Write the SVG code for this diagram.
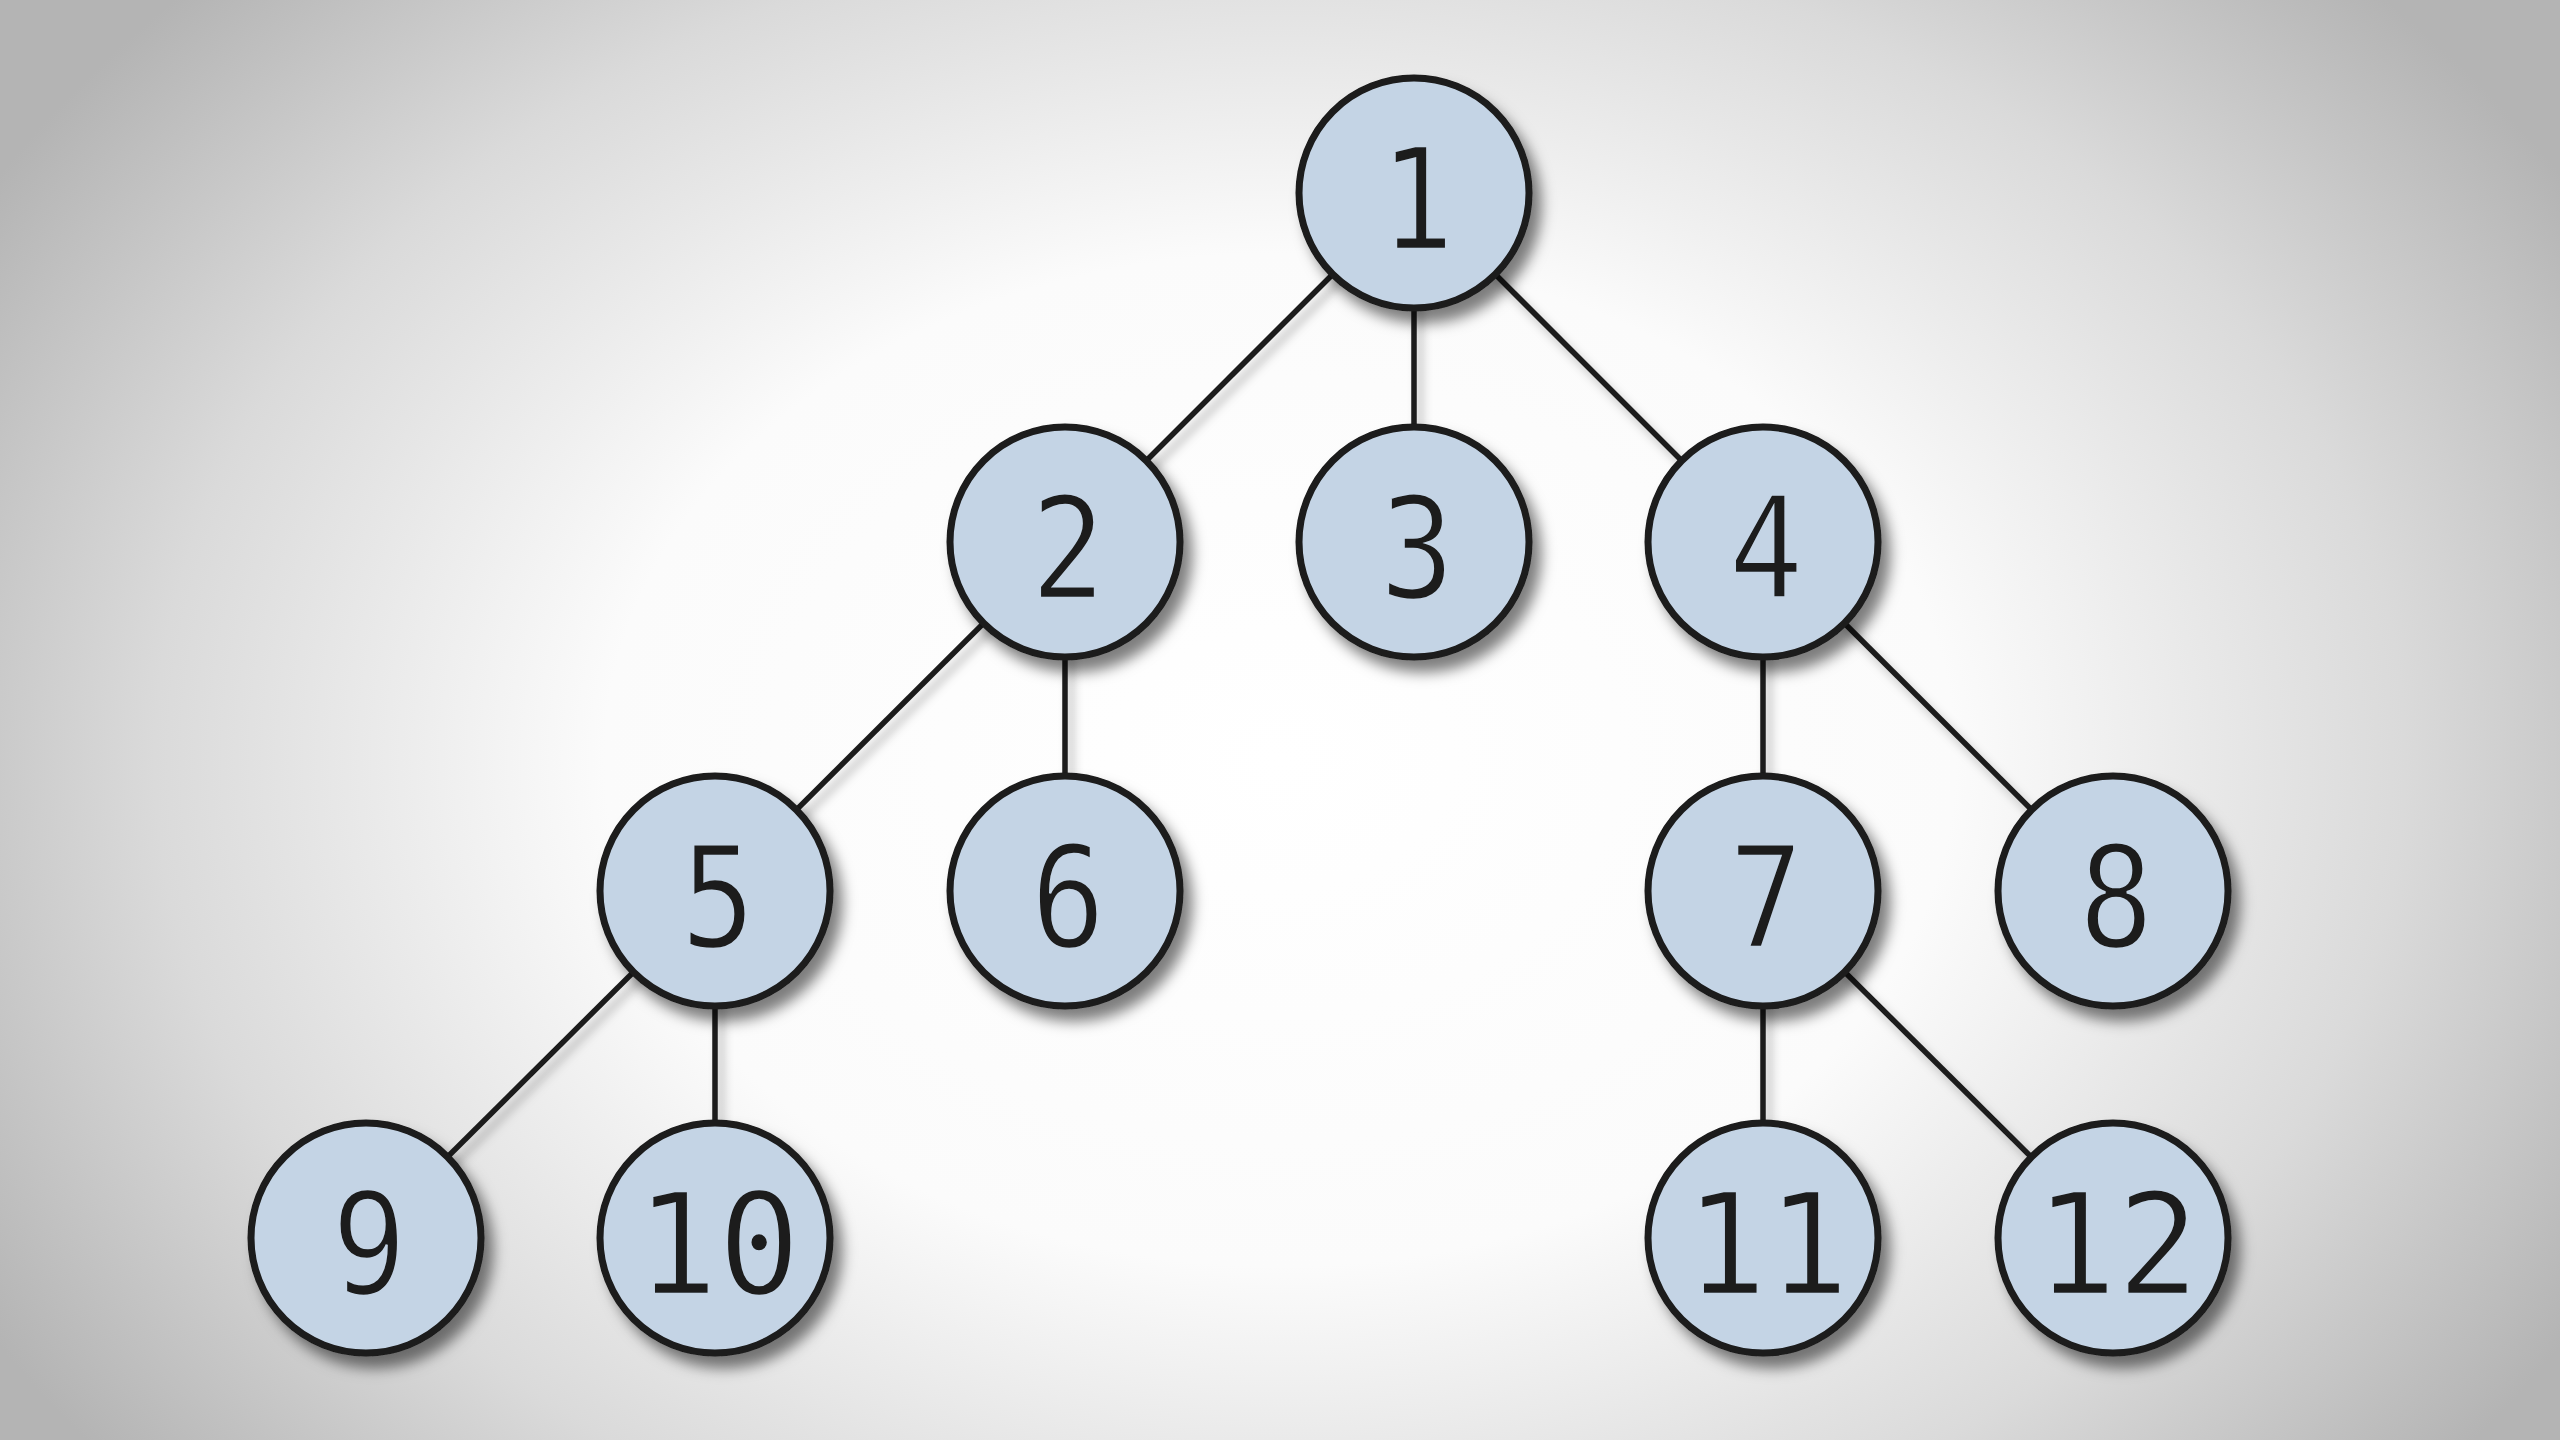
<svg xmlns="http://www.w3.org/2000/svg" width="2560" height="1440" viewBox="0 0 2560 1440">
<defs>
<radialGradient id="bg" cx="1280" cy="760" r="1500" gradientUnits="userSpaceOnUse" gradientTransform="translate(1280 760) scale(1 0.75) translate(-1280 -760)">
<stop offset="0" stop-color="#ffffff"/>
<stop offset="0.45" stop-color="#fbfbfb"/>
<stop offset="0.75" stop-color="#dadada"/>
<stop offset="1" stop-color="#b4b4b4"/>
</radialGradient>
<filter id="sh" x="-30%" y="-30%" width="160%" height="160%">
<feDropShadow dx="9" dy="12" stdDeviation="7" flood-color="#000" flood-opacity="0.5"/>
</filter>
<filter id="lsh" x="-30%" y="-30%" width="160%" height="160%">
<feDropShadow dx="6" dy="8" stdDeviation="5" flood-color="#000" flood-opacity="0.25"/>
</filter>
</defs>
<style>
.n circle{fill:#c4d4e5;stroke:#1a1a1a;stroke-width:7}
.n text{font-family:"DejaVu Sans Mono",monospace;font-size:141px;fill:#1a1a1a;stroke:#c4d4e5;stroke-width:2.5;text-anchor:middle}
#edges line{stroke:#1a1a1a;stroke-width:5.5}
</style>
<rect width="2560" height="1440" fill="url(#bg)"/>
<g id="edges" filter="url(#lsh)">
<line x1="1414" y1="193" x2="1065" y2="542"/>
<line x1="1414" y1="193" x2="1414" y2="542"/>
<line x1="1414" y1="193" x2="1763" y2="542"/>
<line x1="1065" y1="542" x2="715" y2="891"/>
<line x1="1065" y1="542" x2="1065" y2="891"/>
<line x1="1763" y1="542" x2="1763" y2="891"/>
<line x1="1763" y1="542" x2="2113" y2="891"/>
<line x1="715" y1="891" x2="366" y2="1238"/>
<line x1="715" y1="891" x2="715" y2="1238"/>
<line x1="1763" y1="891" x2="1763" y2="1238"/>
<line x1="1763" y1="891" x2="2113" y2="1238"/>
</g>
<g id="n1" class="n" filter="url(#sh)"><circle cx="1414" cy="193" r="115"/><text transform="translate(1417 249) scale(0.88 1)">1</text></g>
<g id="n2" class="n" filter="url(#sh)"><circle cx="1065" cy="542" r="115"/><text transform="translate(1068 598) scale(0.88 1)">2</text></g>
<g id="n3" class="n" filter="url(#sh)"><circle cx="1414" cy="542" r="115"/><text transform="translate(1417 598) scale(0.88 1)">3</text></g>
<g id="n4" class="n" filter="url(#sh)"><circle cx="1763" cy="542" r="115"/><text transform="translate(1766 598) scale(0.88 1)">4</text></g>
<g id="n5" class="n" filter="url(#sh)"><circle cx="715" cy="891" r="115"/><text transform="translate(718 947) scale(0.88 1)">5</text></g>
<g id="n6" class="n" filter="url(#sh)"><circle cx="1065" cy="891" r="115"/><text transform="translate(1068 947) scale(0.88 1)">6</text></g>
<g id="n7" class="n" filter="url(#sh)"><circle cx="1763" cy="891" r="115"/><text transform="translate(1766 947) scale(0.88 1)">7</text></g>
<g id="n8" class="n" filter="url(#sh)"><circle cx="2113" cy="891" r="115"/><text transform="translate(2116 947) scale(0.88 1)">8</text></g>
<g id="n9" class="n" filter="url(#sh)"><circle cx="366" cy="1238" r="115"/><text transform="translate(369 1294) scale(0.88 1)">9</text></g>
<g id="n10" class="n" filter="url(#sh)"><circle cx="715" cy="1238" r="115"/><text transform="translate(718 1294) scale(0.97 1)">10</text></g>
<g id="n11" class="n" filter="url(#sh)"><circle cx="1763" cy="1238" r="115"/><text transform="translate(1767 1294) scale(0.97 1)">11</text></g>
<g id="n12" class="n" filter="url(#sh)"><circle cx="2113" cy="1238" r="115"/><text transform="translate(2117 1294) scale(0.97 1)">12</text></g>
</svg>
